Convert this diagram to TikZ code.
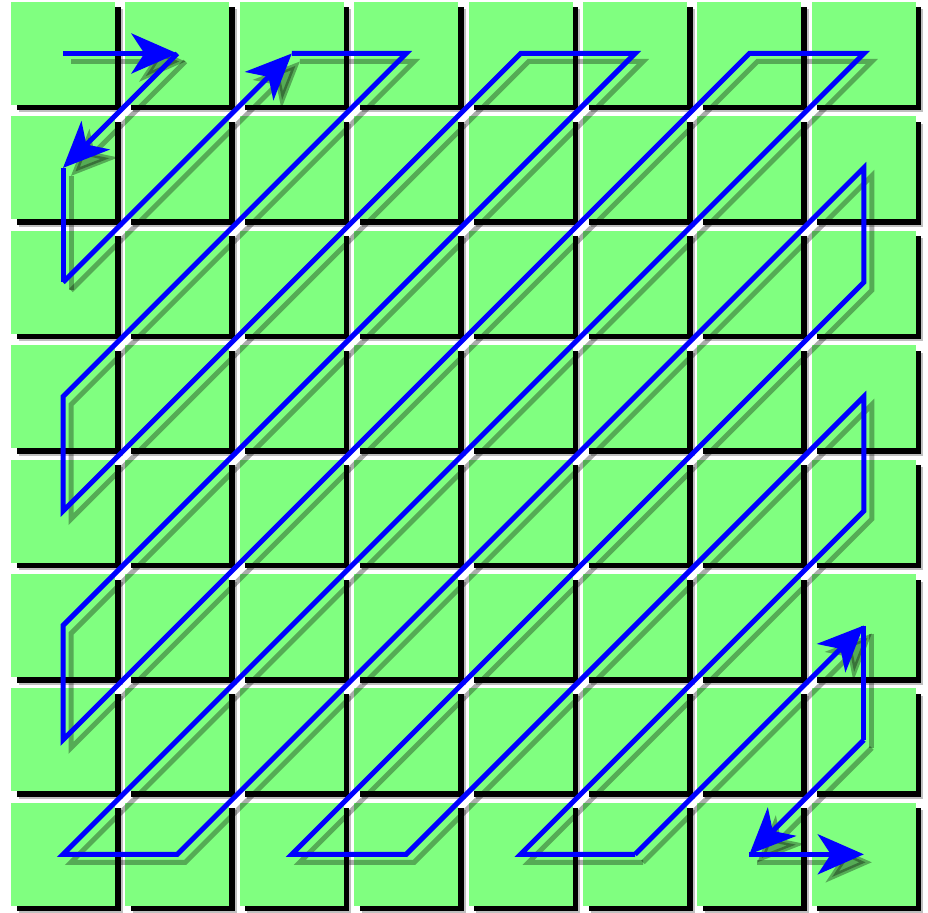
\documentclass[tikz,border=0pt]{standalone}
\usepackage{tikz}
\usetikzlibrary{arrows.meta,shadows}
\definecolor{verdec}{RGB}{128,255,128}
\definecolor{azulz}{RGB}{0,0,255}
\tikzset{
  celda/.style={fill=verdec, minimum width=104pt, minimum height=103pt, inner sep=0pt, outer sep=0pt,
    general shadow={shadow xshift=7.5pt, shadow yshift=-7.5pt, fill=black, opacity=.25},
    general shadow={shadow xshift=5.5pt, shadow yshift=-5.5pt, fill=black}},
  zz/.style={line width=5pt, line join=miter},
  zzf/.style={zz, -{Stealth[length=46pt, width=40pt, inset=13pt]}},
  sombra/.style={transform canvas={shift={(8pt,-8pt)}}, color=black, opacity=.33},
}
% recorrido en zigzag por los centros de las celdas
\newcommand{\zigzag}{%
  \draw[zzf] (c00.center) -- (c10.center);
  \draw[zzf] (c10.center) -- (c01.center);
  \draw[zz]  (c01.center) -- (c02.center);
  \draw[zzf] (c02.center) -- (c20.center);
  \draw[zz]  (c20.center) -- (c30.center) -- (c03.center) -- (c04.center) -- (c40.center)
    -- (c50.center) -- (c05.center) -- (c06.center) -- (c60.center) -- (c70.center)
    -- (c07.center) -- (c17.center) -- (c71.center) -- (c72.center) -- (c27.center)
    -- (c37.center) -- (c73.center) -- (c74.center) -- (c47.center) -- (c57.center);
  \draw[zzf] (c57.center) -- (c75.center);
  \draw[zz]  (c75.center) -- (c76.center);
  \draw[zzf] (c76.center) -- (c67.center);
  \draw[zzf] (c67.center) -- (c77.center);
}

\begin{document}
\begin{tikzpicture}[x=1pt, y=-1pt]
  \useasboundingbox[fill=white] (0,0) rectangle (928,912);
  % celdas 8x8
  \foreach \i in {0,...,7}
    \foreach \j in {0,...,7}
      \node[celda] (c\i\j) at ({63+114.4*\i},{53.5+114.4*\j}) {};
  % sombra del trazo
  \begin{scope}[sombra]
    \zigzag
  \end{scope}
  % trazo
  \begin{scope}[color=azulz]
    \zigzag
  \end{scope}
\end{tikzpicture}
\end{document}
